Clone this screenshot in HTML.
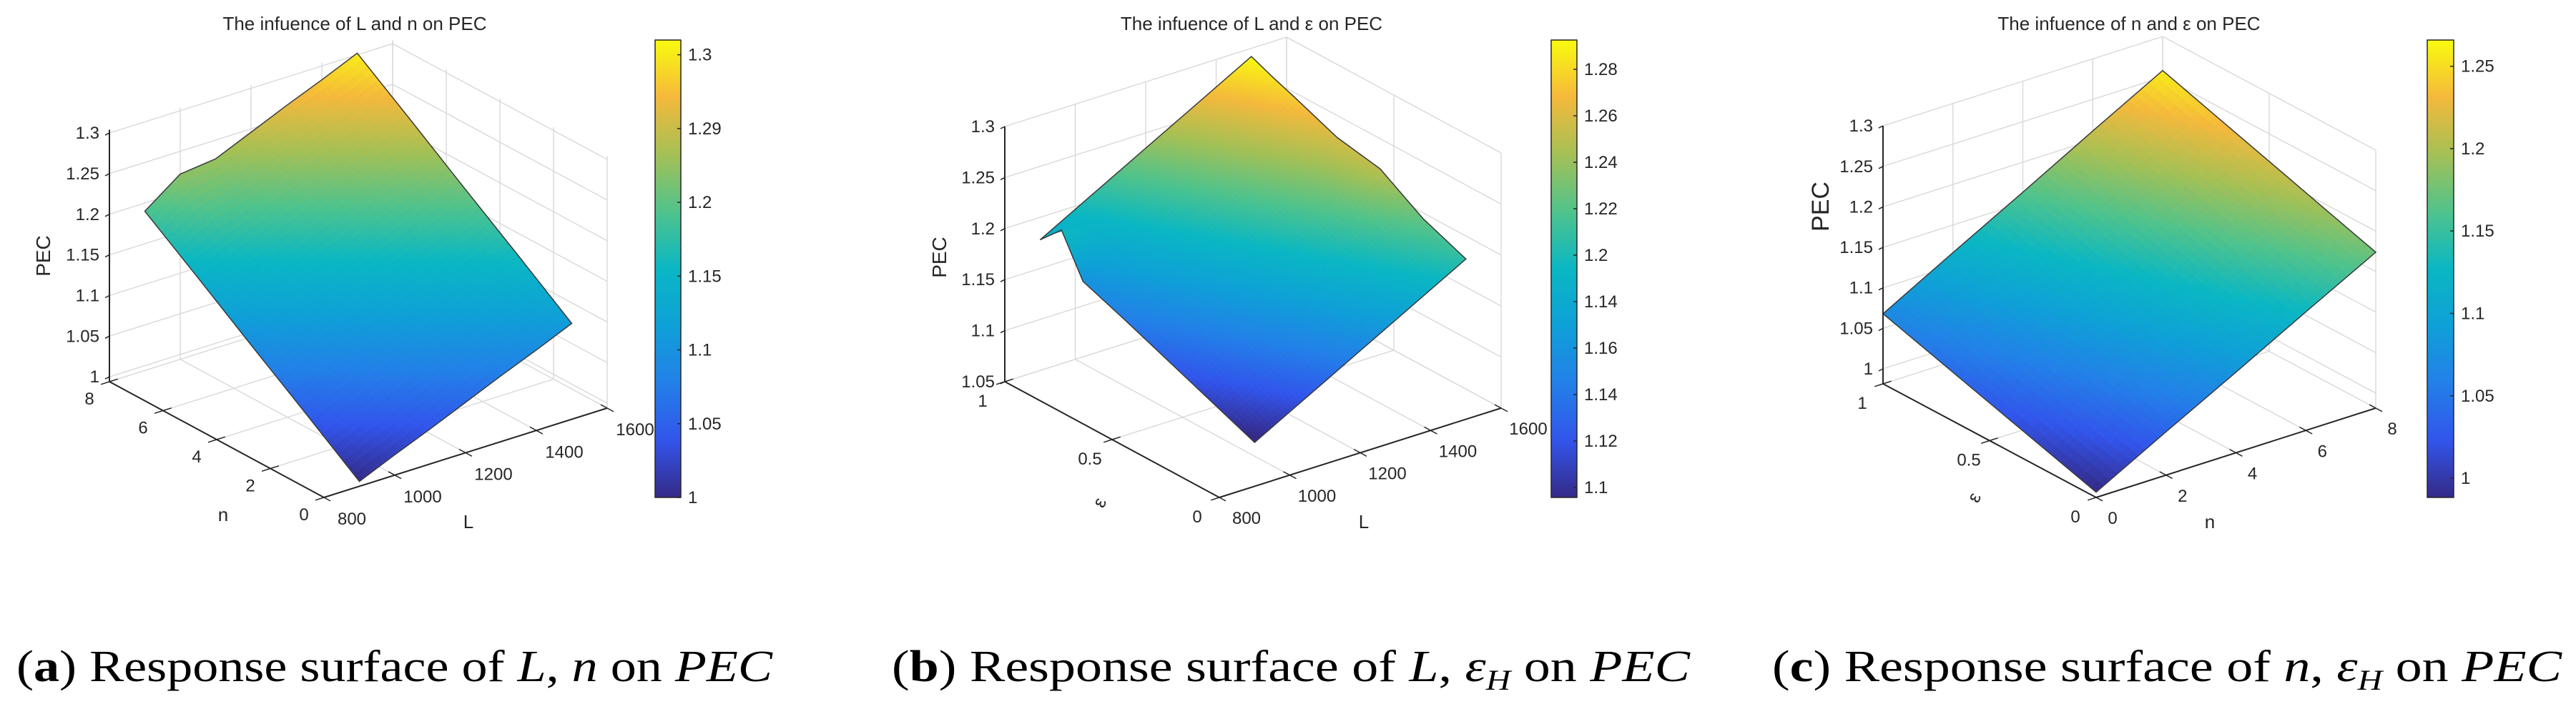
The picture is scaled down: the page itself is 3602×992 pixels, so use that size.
<!DOCTYPE html>
<html><head><meta charset="utf-8"><style>
html,body{margin:0;padding:0;background:#fff;}
svg{display:block;}
text{font-family:"Liberation Sans",Arial,sans-serif;fill:#262626;}
.cap{font-family:"Liberation Serif",serif;fill:#000;}
</style></head><body>
<svg id="fig" width="3602" height="992" viewBox="0 0 3602 992" xmlns="http://www.w3.org/2000/svg">
<defs>
<linearGradient id="parulaGrad" x1="0" y1="1" x2="0" y2="0">
<stop offset="0" stop-color="rgb(53,42,135)"/><stop offset="0.125" stop-color="rgb(50,85,235)"/><stop offset="0.25" stop-color="rgb(35,128,232)"/><stop offset="0.375" stop-color="rgb(15,160,215)"/><stop offset="0.5" stop-color="rgb(10,183,195)"/><stop offset="0.625" stop-color="rgb(80,195,140)"/><stop offset="0.75" stop-color="rgb(165,192,85)"/><stop offset="0.875" stop-color="rgb(245,185,60)"/><stop offset="1" stop-color="rgb(249,251,14)"/>
</linearGradient>
</defs>
<rect x="0" y="0" width="3602" height="992" fill="#fff"/>
<g id="panelA"></g>
<g id="panelB"></g>
<g id="panelC"></g>

<text class="cap" x="23" y="953" font-size="62" textLength="1057" lengthAdjust="spacingAndGlyphs">(<tspan font-weight="bold">a</tspan>) Response surface of  <tspan font-style="italic">L</tspan>, <tspan font-style="italic">n</tspan> on  <tspan font-style="italic">PEC</tspan></text>
<text class="cap" x="1247" y="953" font-size="62" textLength="1116" lengthAdjust="spacingAndGlyphs">(<tspan font-weight="bold">b</tspan>) Response surface of <tspan font-style="italic">L</tspan>,  <tspan font-style="italic">ε</tspan><tspan font-style="italic" font-size="40" dy="12">H</tspan><tspan dy="-12">  on  </tspan><tspan font-style="italic">PEC</tspan></text>
<text class="cap" x="2478" y="953" font-size="62" textLength="1104" lengthAdjust="spacingAndGlyphs">(<tspan font-weight="bold">c</tspan>) Response surface of <tspan font-style="italic">n</tspan>,  <tspan font-style="italic">ε</tspan><tspan font-style="italic" font-size="40" dy="12">H</tspan><tspan dy="-12">  on  </tspan><tspan font-style="italic">PEC</tspan></text>
</svg>
<script>
// ---------- Panel A data: PEC vs L (u) and n (v) ----------
const aL = [900, 1000, 1100, 1200, 1300, 1400, 1500];
const aN = [0, 2, 4, 6, 8];
const aZ = [
  [1.000, 1.019, 1.037, 1.056, 1.075, 1.093, 1.112],
  [1.048, 1.066, 1.085, 1.104, 1.122, 1.141, 1.160],
  [1.095, 1.114, 1.132, 1.151, 1.170, 1.188, 1.207],
  [1.143, 1.161, 1.180, 1.198, 1.217, 1.236, 1.255],
  [1.190, 1.222, 1.227, 1.246, 1.265, 1.283, 1.302]
];
const aUTicks = [800, 1000, 1200, 1400, 1600];
const aVTicks = [0, 2, 4, 6, 8];
const aZTicks = [1, 1.05, 1.1, 1.15, 1.2, 1.25, 1.3];
const aZTickLabels = ["1", "1.05", "1.1", "1.15", "1.2", "1.25", "1.3"];
const aCbVals = [1.3, 1.25, 1.2, 1.15, 1.1, 1.05, 1.0];
const aCbLabels = ["1.3", "1.29", "1.2", "1.15", "1.1", "1.05", "1"];

// ---------- Panel B data: PEC vs L (u) and epsilon (v) ----------
const bL = [900, 1000, 1100, 1200, 1300, 1400, 1500];
const bE = [0, 0.2, 0.4, 0.6, 0.8, 0.9, 1];
const bZ = [
  [1.093, 1.112, 1.131, 1.150, 1.169, 1.188, 1.207],
  [1.110, 1.129, 1.148, 1.167, 1.186, 1.205, 1.224],
  [1.127, 1.146, 1.165, 1.184, 1.203, 1.222, 1.250],
  [1.144, 1.163, 1.182, 1.201, 1.220, 1.239, 1.258],
  [1.160, 1.180, 1.199, 1.218, 1.237, 1.256, 1.275],
  [1.199, 1.188, 1.207, 1.226, 1.245, 1.264, 1.283],
  [1.178, 1.197, 1.216, 1.235, 1.254, 1.273, 1.292]
];
const bUTicks = [800, 1000, 1200, 1400, 1600];
const bVTicks = [0, 0.5, 1];
const bZTicks = [1.05, 1.1, 1.15, 1.2, 1.25, 1.3];
const bZTickLabels = ["1.05", "1.1", "1.15", "1.2", "1.25", "1.3"];
const bCbVals = [1.28, 1.26, 1.24, 1.22, 1.2, 1.18, 1.16, 1.14, 1.12, 1.1];
const bCbLabels = ["1.28", "1.26", "1.24", "1.22", "1.2", "1.14", "1.16", "1.14", "1.12", "1.1"];

// ---------- Panel C data: PEC vs n (u) and epsilon (v) ----------
const cN = [0, 2, 4, 6, 8];
const cE = [0, 0.25, 0.5, 0.75, 1];
const cZ = [
  [0.988, 1.035, 1.081, 1.128, 1.174],
  [1.008, 1.055, 1.102, 1.149, 1.195],
  [1.028, 1.075, 1.122, 1.170, 1.216],
  [1.048, 1.095, 1.143, 1.190, 1.237],
  [1.068, 1.116, 1.163, 1.211, 1.258]
];
const cUTicks = [0, 2, 4, 6, 8];
const cVTicks = [0, 0.5, 1];
const cZTicks = [1, 1.05, 1.1, 1.15, 1.2, 1.25, 1.3];
const cZTickLabels = ["1", "1.05", "1.1", "1.15", "1.2", "1.25", "1.3"];
const cCbVals = [1.25, 1.2, 1.15, 1.1, 1.05, 1.0];
const cCbLabels = ["1.25", "1.2", "1.15", "1.1", "1.05", "1"];

const NS = "http://www.w3.org/2000/svg";
const PARULA = [[53,42,135],[50,85,235],[35,128,232],[15,160,215],[10,183,195],[80,195,140],[165,192,85],[245,185,60],[249,251,14]];
function parula(t){
  t = Math.max(0, Math.min(1, t));
  const s = t * 8; const i = Math.min(7, Math.floor(s)); const f = s - i;
  const a = PARULA[i], b = PARULA[i+1];
  return "rgb(" + Math.round(a[0]+(b[0]-a[0])*f) + "," + Math.round(a[1]+(b[1]-a[1])*f) + "," + Math.round(a[2]+(b[2]-a[2])*f) + ")";
}
function mk(parent, tag, attrs){
  const el = document.createElementNS(NS, tag);
  for (const k in attrs) el.setAttribute(k, attrs[k]);
  parent.appendChild(el);
  return el;
}

function drawPanel(g, cfg, us, vs, Z, uTicks, vTicks, zTicks, zTickLabels, cbVals, cbLabels){
  function P(u, v, z){
    const un = (u - cfg.u0) / (cfg.u1 - cfg.u0);
    const vn = (v - cfg.v0) / (cfg.v1 - cfg.v0);
    return [cfg.F[0] + un*cfg.U[0] + vn*cfg.V[0], cfg.F[1] + un*cfg.U[1] + vn*cfg.V[1] - (z - cfg.zmin)*cfg.S];
  }
  function line(p, q, stroke, w, name){
    const el = mk(g, "line", {x1:p[0].toFixed(1), y1:p[1].toFixed(1), x2:q[0].toFixed(1), y2:q[1].toFixed(1), stroke:stroke, "stroke-width":w});
    
    
    return el;
  }
  function text(x, y, s, size, anchor, name){
    const el = mk(g, "text", {x:x.toFixed(1), y:y.toFixed(1), "font-size":size, "text-anchor":anchor});
    el.textContent = s;
    
    
    return el;
  }
  const GC = "#d6d6d6";
  uTicks.forEach(t => { line(P(t,cfg.v1,cfg.zmin), P(t,cfg.v1,cfg.zmax), GC, 1.3, 'grid-line'); line(P(t,cfg.v0,cfg.zmin), P(t,cfg.v1,cfg.zmin), GC, 1.3, 'grid-line'); });
  vTicks.forEach(t => { line(P(cfg.u1,t,cfg.zmin), P(cfg.u1,t,cfg.zmax), GC, 1.3, 'grid-line'); line(P(cfg.u0,t,cfg.zmin), P(cfg.u1,t,cfg.zmin), GC, 1.3, 'grid-line'); });
  zTicks.forEach(z => { line(P(cfg.u0,cfg.v1,z), P(cfg.u1,cfg.v1,z), GC, 1.3, 'grid-line'); line(P(cfg.u1,cfg.v0,z), P(cfg.u1,cfg.v1,z), GC, 1.3, 'grid-line'); });
  const N = 10;
  for (let i = vs.length - 2; i >= 0; i--){
    for (let j = us.length - 2; j >= 0; j--){
      for (let a = N-1; a >= 0; a--){
        for (let b = N-1; b >= 0; b--){
          const pts = []; let zs = 0;
          [[a,b],[a,b+1],[a+1,b+1],[a+1,b]].forEach(([aa,bb]) => {
            const fv = aa/N, fu = bb/N;
            const z = Z[i][j]*(1-fv)*(1-fu) + Z[i][j+1]*(1-fv)*fu + Z[i+1][j]*fv*(1-fu) + Z[i+1][j+1]*fv*fu;
            zs += z;
            const p = P(us[j] + (us[j+1]-us[j])*fu, vs[i] + (vs[i+1]-vs[i])*fv, z);
            pts.push(p[0].toFixed(1) + "," + p[1].toFixed(1));
          });
          const col = parula((zs/4 - cfg.c0) / (cfg.c1 - cfg.c0));
          const q = mk(g, "polygon", {points: pts.join(" "), fill: col, stroke: col, "stroke-width": 0.9});
          
          
        }
      }
    }
  }
  const bp = [];
  for (let j = 0; j < us.length; j++) bp.push(P(us[j], vs[0], Z[0][j]));
  for (let i = 1; i < vs.length; i++) bp.push(P(us[us.length-1], vs[i], Z[i][us.length-1]));
  for (let j = us.length-2; j >= 0; j--) bp.push(P(us[j], vs[vs.length-1], Z[vs.length-1][j]));
  for (let i = vs.length-2; i > 0; i--) bp.push(P(us[0], vs[i], Z[i][0]));
  const ol = mk(g, "polygon", {points: bp.map(p => p[0].toFixed(1)+","+p[1].toFixed(1)).join(" "), fill: "none", stroke: "#3a3a3a", "stroke-width": 1.5});
  
  
  const AC = "#262626";
  line(P(cfg.u0,cfg.v1,cfg.zmin), P(cfg.u0,cfg.v1,cfg.zmax), AC, 2, 'z-axis-line');
  line(P(cfg.u0,cfg.v0,cfg.zmin), P(cfg.u0,cfg.v1,cfg.zmin), AC, 2, 'v-axis-line');
  line(P(cfg.u0,cfg.v0,cfg.zmin), P(cfg.u1,cfg.v0,cfg.zmin), AC, 2, 'u-axis-line');
  zTicks.forEach((z, k) => {
    const p = P(cfg.u0, cfg.v1, z);
    line([p[0]-6, p[1]+3], p, AC, 1.5, 'z-tick');
    text(p[0]-14, p[1]+8, zTickLabels[k], 24, "end", 'z-tick-label');
  });
  uTicks.forEach(t => {
    const p = P(t, cfg.v0, cfg.zmin);
    line(p, [p[0]+cfg.V[0]*0.03, p[1]+cfg.V[1]*0.03], AC, 1.5, 'u-tick');
    line(p, [p[0]-cfg.V[0]*0.03, p[1]-cfg.V[1]*0.03], AC, 1.5, 'u-tick');
    text(p[0]+cfg.uOff[0], p[1]+cfg.uOff[1]+8, String(t), 24, "middle", 'u-tick-label');
  });
  vTicks.forEach(t => {
    const p = P(cfg.u0, t, cfg.zmin);
    line(p, [p[0]+cfg.U[0]*0.03, p[1]+cfg.U[1]*0.03], AC, 1.5, 'v-tick');
    line(p, [p[0]-cfg.U[0]*0.03, p[1]-cfg.U[1]*0.03], AC, 1.5, 'v-tick');
    text(p[0]+cfg.vOff[0], p[1]+cfg.vOff[1]+8, String(t), 24, "middle", 'v-tick-label');
  });
  text(cfg.uLab[0], cfg.uLab[1]+9, cfg.uName, 26, "middle", 'u-axis-title');
  const vl = text(cfg.vLab[0], cfg.vLab[1]+9, cfg.vName, 26, "middle", 'v-axis-title');
  if (cfg.vRot) vl.setAttribute("transform", "rotate(" + cfg.vRot + " " + cfg.vLab[0] + " " + cfg.vLab[1] + ")");
  const zl = text(cfg.zLab[0], cfg.zLab[1], "PEC", cfg.zLabSize, "middle", 'z-axis-title');
  zl.setAttribute("transform", "rotate(-90 " + cfg.zLab[0] + " " + cfg.zLab[1] + ")");
  zl.setAttribute("dy", "0.35em");
  text(cfg.title[0], cfg.title[1]+9, cfg.titleText, 26, "middle", 'chart-title');
  const cb = mk(g, "rect", {x: cfg.cb[0], y: cfg.cb[1], width: cfg.cb[2], height: cfg.cb[3], fill: "url(#parulaGrad)", stroke: "#262626", "stroke-width": 1.5});
  
  
  cbVals.forEach((v, k) => {
    const y = cfg.cb[1] + cfg.cb[3] * (1 - (v - cfg.c0) / (cfg.c1 - cfg.c0));
    const x2 = cfg.cb[0] + cfg.cb[2];
    line([x2-5, y], [x2, y], "#262626", 1.5, 'colorbar-tick');
    text(x2 + 10, y + 8, cbLabels[k], 24, "start", 'colorbar-tick-label');
  });
}

drawPanel(document.getElementById("panelA"), {
  F:[453,696], U:[396,-125], V:[-300,-162], u0:800, u1:1600, v0:0, v1:8,
  zmin:0.994, zmax:1.304, S:1137, c0:1.0, c1:1.31,
  uOff:[39,30], vOff:[-28,24], uLab:[655,730], vLab:[312,720], uName:"L", vName:"n", vRot:0,
  zLab:[60,358], zLabSize:28, title:[496,33], titleText:"The infuence of L and n on PEC",
  cb:[916,56,36,640]
}, aL, aN, aZ, aUTicks, aVTicks, aZTicks, aZTickLabels, aCbVals, aCbLabels);

drawPanel(document.getElementById("panelB"), {
  F:[1705,696], U:[394,-125], V:[-300,-162], u0:800, u1:1600, v0:0, v1:1,
  zmin:1.05, zmax:1.3, S:1428, c0:1.0957, c1:1.2926,
  uOff:[38,29], vOff:[-31,27], uLab:[1907,730], vLab:[1537,703], uName:"L", vName:"ε", vRot:-65,
  zLab:[1313,360], zLabSize:28, title:[1750,33], titleText:"The infuence of L and ε on PEC",
  cb:[2169,56,36,640]
}, bL, bE, bZ, bUTicks, bVTicks, bZTicks, bZTickLabels, bCbVals, bCbLabels);

drawPanel(document.getElementById("panelC"), {
  F:[2931,696], U:[391,-125], V:[-298,-159], u0:0, u1:8, v0:0, v1:1,
  zmin:0.9815, zmax:1.3, S:1133, c0:0.9883, c1:1.2659,
  uOff:[23,29], vOff:[-29,27], uLab:[3090,730], vLab:[2760,696], uName:"n", vName:"ε", vRot:-65,
  zLab:[2545,289], zLabSize:34, title:[2977,33], titleText:"The infuence of n and ε on PEC",
  cb:[3394,56,37,640]
}, cN, cE, cZ, cUTicks, cVTicks, cZTicks, cZTickLabels, cCbVals, cCbLabels);
</script>
</body></html>
